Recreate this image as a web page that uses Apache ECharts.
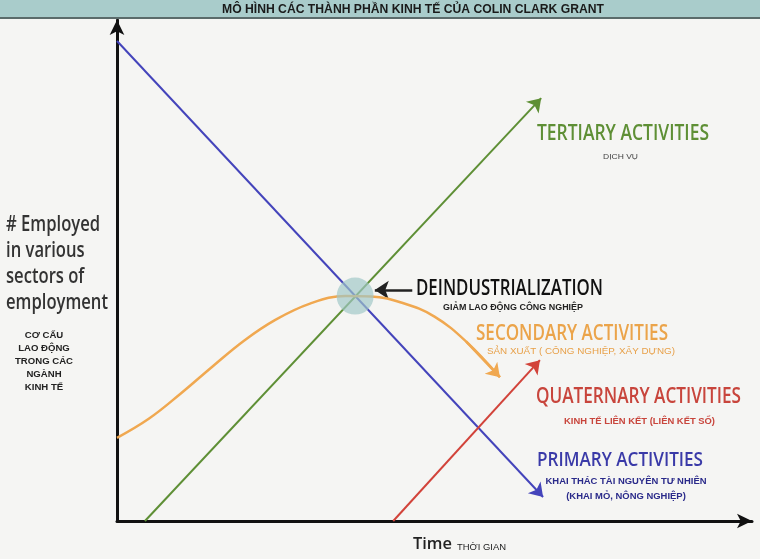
<!DOCTYPE html>
<html>
<head>
<meta charset="utf-8">
<script src="https://cdn.jsdelivr.net/npm/echarts@6/dist/echarts.min.js"></script>
<style>html,body{margin:0;padding:0;background:#f5f5f3;}#c{width:760px;height:559px;}</style>
</head>
<body>
<div id="c"></div>
<script>
// Time (x, 0..100) and employment share (y, 0..100)
const primaryX = [0, 67.1];
const primaryY = [95.8, 4.8];
const tertiaryX = [4.4, 66.8];
const tertiaryY = [0, 84.4];
const quaternaryX = [43.5, 66.6];
const quaternaryY = [0, 32.1];
const secondaryX = [0, 5, 10, 15, 20, 25, 30.4, 36, 40, 45, 50, 55, 60.3];
const secondaryY = [16.6, 20.4, 25.4, 30.8, 36.0, 40.2, 43.4, 44.9, 44.8, 43.5, 40.8, 35.8, 28.7];
const deindustrial = [37.5, 44.9];
const deindustrialArrowX = [46.5, 40.6];
const deindustrialArrowY = [46.1, 46.1];

const zip = (xs, ys) => xs.map((x, i) => [x, ys[i]]);
const BIG = "'Open Sans', Lato, sans-serif";
const SMALL = "'Liberation Sans', Arial, sans-serif";
const BLUE = '#4444bb', GREEN = '#5e8f35', ORANGE = '#f0a850', RED = '#d2433a';

const mctx = document.createElement('canvas').getContext('2d');
function measure(text, size, family, weight) {
  mctx.font = (weight || 'normal') + ' ' + size + 'px ' + family;
  return Math.max.apply(null, text.split('\n').map(l => mctx.measureText(l).width));
}
// text squeezed horizontally to the width seen in the picture
function fit(text, x, yMid, size, width, color, family, weight, align, lineHeight) {
  const w = measure(text, size, family, weight);
  return {
    type: 'text', x: x, y: yMid, scaleX: width / w, z: 50,
    style: {
      text: text, fontSize: size, fill: color, fontFamily: family, fontWeight: weight || 'normal',
      align: align || 'left', verticalAlign: 'middle', lineHeight: lineHeight || size
    }
  };
}

function arrowLine(xs, ys, color, width, size) {
  return {
    type: 'lines', coordinateSystem: 'cartesian2d',
    symbol: ['none', 'arrow'], symbolSize: size || 13,
    lineStyle: { color: color, width: width || 2, opacity: 1 },
    silent: true,
    data: [{ coords: zip(xs, ys) }]
  };
}

const chart = echarts.init(document.getElementById('c'));
chart.setOption({
  backgroundColor: '#f5f5f3',
  animation: false,
  grid: { left: 117, right: 8, top: 20, bottom: 38 },
  xAxis: {
    type: 'value', min: 0, max: 100,
    axisLine: { show: true, onZero: false, lineStyle: { color: '#111', width: 3 }, symbol: ['none', 'arrow'], symbolSize: [11, 15] },
    axisTick: { show: false }, axisLabel: { show: false }, splitLine: { show: false }
  },
  yAxis: {
    type: 'value', min: 0, max: 100,
    axisLine: { show: true, onZero: false, lineStyle: { color: '#111', width: 3 }, symbol: ['none', 'arrow'], symbolSize: [11, 15] },
    axisTick: { show: false }, axisLabel: { show: false }, splitLine: { show: false }
  },
  series: [
    arrowLine(primaryX, primaryY, BLUE, 2),
    arrowLine(tertiaryX, tertiaryY, GREEN, 2),
    arrowLine(quaternaryX, quaternaryY, RED, 2),
    {
      type: 'line', smooth: 0.4, symbol: 'none', silent: true,
      lineStyle: { color: ORANGE, width: 2.5 },
      data: zip(secondaryX, secondaryY)
    },
    arrowLine(secondaryX.slice(-2), secondaryY.slice(-2), ORANGE, 2.5),
    arrowLine(deindustrialArrowX, deindustrialArrowY, '#222', 2.5, 14),
    {
      type: 'scatter', silent: true, symbolSize: 37, z: 10,
      itemStyle: { color: 'rgba(160,200,200,0.85)' },
      data: [deindustrial]
    }
  ],
  graphic: [
    { type: 'rect', x: 0, y: 0, shape: { width: 760, height: 17 }, style: { fill: '#a9cccb' }, z: 100 },
    { type: 'rect', x: 0, y: 17, shape: { width: 760, height: 2 }, style: { fill: '#5b6b6b' }, z: 100 },
    Object.assign(fit('MÔ HÌNH CÁC THÀNH PHẦN KINH TẾ CỦA COLIN CLARK GRANT', 222, 9.5, 13.5, 382, '#1a1a1a', SMALL, 'bold'), { z: 101 }),

    fit('# Employed\nin various\nsectors of\nemployment', 6, 264, 21, 102, '#333', BIG, '600', 'left', 26),
    fit('CƠ CẤU\nLAO ĐỘNG\nTRONG CÁC\nNGÀNH\nKINH TẾ', 44, 362, 9, 58, '#222', SMALL, 'bold', 'center', 13),

    fit('TERTIARY ACTIVITIES', 537, 134.5, 21, 172, GREEN, BIG, '600'),
    fit('DỊCH VỤ', 603, 157, 8, 35, '#444', SMALL),

    fit('DEINDUSTRIALIZATION', 416, 289.5, 21, 187, '#111', BIG, '600'),
    fit('GIẢM LAO ĐỘNG CÔNG NGHIỆP', 443, 308, 9, 140, '#222', SMALL, 'bold'),

    fit('SECONDARY ACTIVITIES', 476, 334.5, 21, 192, '#eba44a', BIG, '600'),
    fit('SẢN XUẤT ( CÔNG NGHIỆP, XÂY DỰNG)', 487, 352, 9, 188, '#e8a048', SMALL),

    fit('QUATERNARY ACTIVITIES', 536, 397, 21, 205, '#c8453c', BIG, '600'),
    fit('KINH TẾ LIÊN KẾT (LIÊN KẾT SỐ)', 564, 422, 9, 151, '#c8453c', SMALL, 'bold'),

    fit('PRIMARY ACTIVITIES', 537, 460, 20, 166, '#3a3aa8', BIG, '600'),
    fit('KHAI THÁC TÀI NGUYÊN TƯ NHIÊN\n(KHAI MỎ, NÔNG NGHIỆP)', 626, 489, 9, 161, '#2a2a8a', SMALL, 'bold', 'center', 15),

    fit('Time', 413, 544, 17, 39, '#222', BIG, '600'),
    fit('THỜI GIAN', 457, 548, 8.5, 49, '#222', SMALL)
  ]
});
</script>
</body>
</html>
